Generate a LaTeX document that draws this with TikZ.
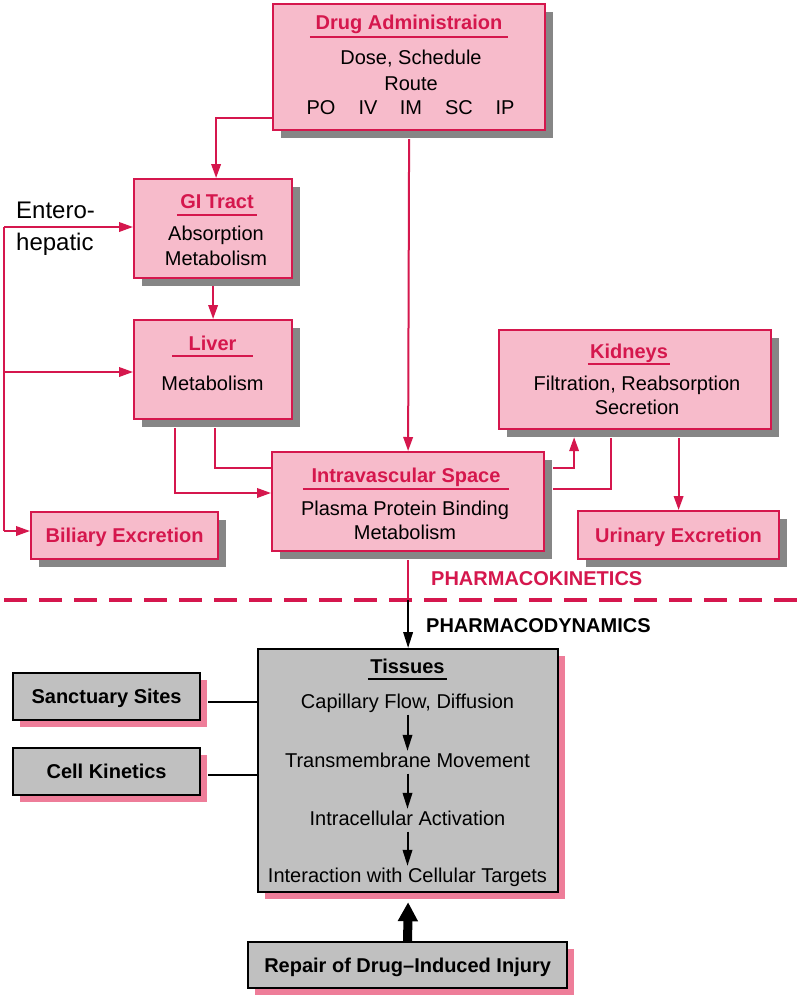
\documentclass[tikz,border=0pt]{standalone}
\usepackage{fontspec}
\setmainfont{Liberation Sans}
\usetikzlibrary{arrows.meta,shadows}
\definecolor{crim}{HTML}{D5174D}
\definecolor{pinkfill}{HTML}{F7BBCB}
\definecolor{shgray}{HTML}{868686}
\definecolor{boxgray}{HTML}{C0C0C0}
\definecolor{shpink}{HTML}{EE7D99}
\begin{document}
\begin{tikzpicture}[x=1pt,y=-1pt,
  every node/.style={font=\fontsize{20}{24}\selectfont},
  pkbox/.style={draw=crim, line width=2.2pt, fill=pinkfill, anchor=north west, inner sep=0pt,
    drop shadow={shadow xshift=8pt, shadow yshift=-8pt, fill=shgray, opacity=1}},
  pdbox/.style={draw=black, line width=2.2pt, fill=boxgray, anchor=north west, inner sep=0pt,
    drop shadow={shadow xshift=7pt, shadow yshift=-7pt, fill=shpink, opacity=1}},
  sz/.style 2 args={minimum width=#1, minimum height=#2},
  ttl/.style={font=\fontsize{20}{24}\selectfont\bfseries, text=crim, anchor=base,
    inner xsep=0pt, inner ysep=6.5pt, text depth=0pt},
  txt/.style={anchor=base, inner sep=0pt},
  lbl/.style={font=\fontsize{20}{24}\selectfont\bfseries, text height=14.3pt, text depth=0pt},
  steptxt/.style={anchor=base, inner xsep=0pt, inner ysep=2pt, text height=14pt, text depth=4.5pt},
  pk/.style={draw=crim, line width=2pt},
  pkarr/.style={pk, -{Triangle[length=14pt,width=9.5pt]}},
  bk/.style={draw=black, line width=2pt},
  bkarr/.style={bk, -{Triangle[length=16pt,width=9.5pt]}},
  uline/.style={line width=2.2pt},
]
\fill[white] (0,0) rectangle (800,998);
\useasboundingbox (0,0) rectangle (800,998);

% ---------- pharmacokinetic boxes ----------
\node[pkbox, sz={272pt}{126pt}] (drug) at (272,3) {};
\node[pkbox, sz={158pt}{99pt}] (gi) at (133,178) {};
\node[pkbox, sz={158pt}{99pt}] (liver) at (133,319) {};
\node[pkbox, sz={272pt}{99pt}] (intra) at (271,451) {};
\node[pkbox, sz={272pt}{99pt}] (kid) at (498,329) {};
\node[pkbox, sz={187pt}{47pt}, lbl, text=crim] (bil) at (30,511) {Biliary Excretion};
\node[pkbox, sz={201pt}{48pt}, lbl, text=crim] (urin) at (577,510) {Urinary Excretion};

% Drug administration text
\node[ttl, minimum width=198pt] (dttl) at (409,30) {Drug Administraion};
\draw[crim, uline] (dttl.south west) -- (dttl.south east);
\node[txt] (dose) at (411,65) {Dose, Schedule};
\node[txt] (route) at (411,90) {Route};
\node[txt] (po) at (321,114) {PO};
\node[txt] (iv) at (368,114) {IV};
\node[txt] (im) at (411,114) {IM};
\node[txt] (sc) at (459,114) {SC};
\node[txt] (ip) at (505,114) {IP};

% GI tract
\node[ttl, minimum width=80pt] (gttl) at (217,208) {GI\kern-1pt\ Tract};
\draw[crim, uline] (gttl.south west) -- (gttl.south east);
\node[txt] (abs) at (216,240) {Absorption};
\node[txt] (gmet) at (216,265) {Metabolism};

% Liver
\node[ttl, minimum width=80pt, inner ysep=5.5pt] (lttl) at (212.5,350) {Liver};
\draw[crim, uline] (lttl.south west) -- (lttl.south east);
\node[txt] (lmet) at (212.5,390) {Metabolism};

% Intravascular
\node[ttl, minimum width=206pt] (ittl) at (406,482) {Intravascular Space};
\draw[crim, uline] (ittl.south west) -- (ittl.south east);
\node[txt] (ppb) at (405,515) {Plasma Protein Binding};
\node[txt] (imet) at (405,539) {Metabolism};

% Kidneys
\node[ttl, minimum width=82pt, inner ysep=5.5pt] (kttl) at (629,358) {Kidneys};
\draw[crim, uline] (kttl.south west) -- (kttl.south east);
\node[txt] (filt) at (637,390) {Filtration, Reabsorption};
\node[txt] (secr) at (637,414) {Secretion};

% Entero-hepatic label
\node[txt, anchor=base west, font=\fontsize{24}{28}\selectfont] (ent1) at (16,218) {Entero-};
\node[txt, anchor=base west, font=\fontsize{24}{28}\selectfont] (ent2) at (16,250) {hepatic};

% ---------- pharmacokinetic connectors ----------
\draw[pkarr] (drug.west |- 0,118) -| ([xshift=3pt]gi.north);
\draw[pkarr] ([yshift=-8pt]drug.south) -- (intra.north);
\draw[pkarr] ([yshift=-7pt]gi.south) -- (liver.north);
\coordinate (etop) at (4,227);
\coordinate (ebot) at (4,531);
\draw[pk] (etop) -- (ebot);
\draw[pkarr] (etop) -- (gi.west |- etop);
\draw[pkarr] (4,372) -- (liver.west |- 0,372);
\draw[pkarr] (ebot) -- (bil.west |- ebot);
\draw[pkarr] ([xshift=-38pt,yshift=-8pt]liver.south) |- (intra.west |- 0,493);
\draw[pk] ([xshift=1.5pt,yshift=-8pt]liver.south) |- (intra.west |- 0,468);
\draw[pkarr] ([xshift=8pt]intra.east |- 0,468) -| ([xshift=-61pt,yshift=-7pt]kid.south);
\draw[pk] ([xshift=-24pt,yshift=-8pt]kid.south) |- ([xshift=8pt]intra.east |- 0,489);
\draw[pkarr] ([yshift=-8pt]kid.south -| urin.north) -- (urin.north);
\coordinate (cut) at (intra.south |- 0,600);
\draw[pk] ([yshift=-8pt]intra.south) -- (cut);

% section divider and labels
\draw[crim, line width=4pt, dash pattern=on 23pt off 12pt, dash phase=-4pt] (0,600) -- (800,600);
\node[txt, anchor=base west, font=\fontsize{20}{24}\selectfont\bfseries, text=crim] (pkin) at (431,585) {PHARMACOKINETICS};
\node[txt, anchor=base west, font=\fontsize{20}{24}\selectfont\bfseries] (pdyn) at (426,632) {PHARMACODYNAMICS};

% ---------- pharmacodynamic boxes ----------
\node[pdbox, sz={300pt}{243pt}] (tis) at (257,648) {};
\node[pdbox, sz={187pt}{47pt}, lbl] (sanct) at (12,672) {Sanctuary Sites};
\node[pdbox, sz={187pt}{47pt}, lbl] (cellk) at (12,747) {Cell Kinetics};
\node[pdbox, sz={319pt}{46pt}, lbl] (repair) at (247,941) {Repair of Drug--Induced Injury};

\node[ttl, text=black, minimum width=79pt, inner ysep=6pt] (tttl) at (407.5,673) {Tissues};
\draw[black, uline] (tttl.south west) -- (tttl.south east);
\node[steptxt] (cap) at (407.5,708) {Capillary Flow, Diffusion};
\node[steptxt] (trans) at (407.5,767) {Transmembrane Movement};
\node[steptxt] (intrac) at (407.5,825) {Intracellular Activation};
\node[steptxt] (inter) at (407.5,882) {Interaction with Cellular Targets};
\draw[bkarr] (cap) -- (trans);
\draw[bkarr] (trans) -- (intrac);
\draw[bkarr] (intrac) -- (inter);

% ---------- pharmacodynamic connectors ----------
\draw[bkarr] (cut) -- (tis.north);
\draw[bk] ([xshift=7pt]sanct.east |- 0,702) -- (tis.west |- 0,702);
\draw[bk] ([xshift=7pt]cellk.east |- 0,775) -- (tis.west |- 0,775);
\draw[black, line width=9pt, -{Triangle[length=19pt,width=19pt]}] (repair.north) -- ([yshift=-9pt]tis.south);
\end{tikzpicture}
\end{document}
